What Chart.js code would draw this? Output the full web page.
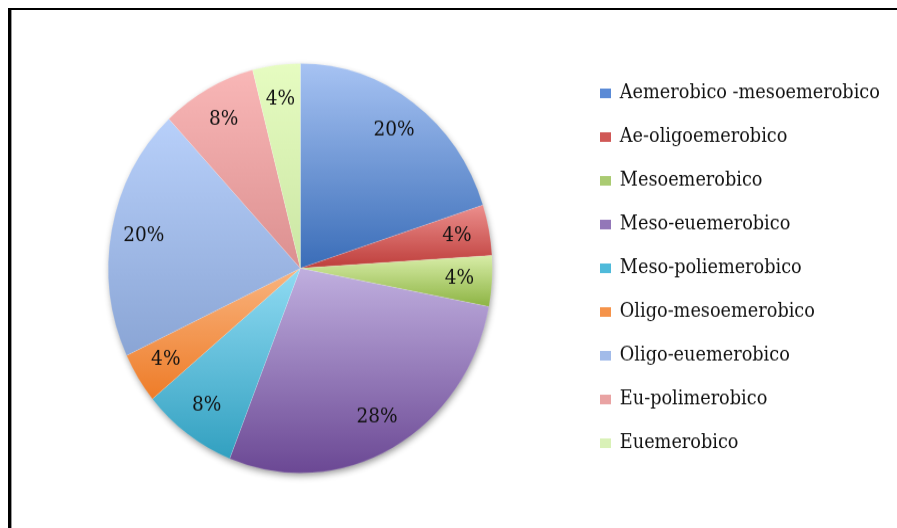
<!DOCTYPE html>
<html>
<head>
<meta charset="utf-8">
<script src="https://cdn.jsdelivr.net/npm/chart.js@4.4.1/dist/chart.umd.min.js"></script>
<style>
  html, body { margin: 0; padding: 0; background: #fff; overflow: hidden; }
  #wrap { position: absolute; left: 0; top: 0; width: 897px; height: 495px; transform: scaleY(1.0667); transform-origin: 0 0; }
  #frame { position: absolute; left: 8px; top: 8px; width: 1000px; height: 600px; border-left: 3px solid #000; border-top: 2px solid #000; box-shadow: inset 1px 0 0 #999; }
</style>
</head>
<body>
<div id="wrap"><canvas id="pie"></canvas></div>
<div id="frame"></div>
<script>
const labels = [
    'Aemerobico -mesoemerobico',
    'Ae-oligoemerobico',
    'Mesoemerobico',
    'Meso-euemerobico',
    'Meso-poliemerobico',
    'Oligo-mesoemerobico',
    'Oligo-euemerobico',
    'Eu-polimerobico',
    'Euemerobico'
];
const values = [20, 4, 4, 28, 8, 4, 20, 8, 4];

// light (top) and dark (bottom) end of each slice's gradient
const topColours = ['#a7c3f3', '#ec8f8d', '#d8eda8', '#c0afdf', '#90dbf3', '#f9b47f', '#b8d0fa', '#f9b7b7', '#e6fcc1'];
const bottomColours = ['#3a6db8', '#be3e3b', '#8db443', '#6b4894', '#32a0c0', '#ee7c28', '#8aa5d5', '#dc9090', '#cbe6a4'];
const legendColours = ['#5a8ad6', '#d05856', '#aacb72', '#9377b8', '#4fbada', '#f5934a', '#a2bbe9', '#e9a3a3', '#d9f1b7'];

const legendFont = { family: '"DejaVu Serif"', size: 17.7 };
const boxW = 11;
const legendPad = 23.3;

// measure the longest label so the legend boxes land at x = 600
const mctx = document.createElement('canvas').getContext('2d');
mctx.font = legendFont.size + 'px ' + legendFont.family;
const maxText = Math.max(...labels.map(l => mctx.measureText(l).width));
const maxItem = boxW + legendFont.size / 2 + maxText;
const rightPad = Math.max(0, 897 - 600 - maxItem - 10);

const total = values.reduce((a, b) => a + b, 0);

function sliceGradient(c) {
    const i = c.dataIndex;
    const chart = c.chart;
    const area = chart.chartArea;
    if (!area) return legendColours[i];
    const cy = (area.top + area.bottom) / 2;
    const r = 192;
    let before = 0;
    for (let k = 0; k < i; k++) before += values[k];
    const a0 = before / total * Math.PI * 2;
    const a1 = (before + values[i]) / total * Math.PI * 2;
    let yMin = cy, yMax = cy;
    for (let s = 0; s <= 40; s++) {
        const a = a0 + (a1 - a0) * s / 40;
        const y = cy - Math.cos(a) * r;
        yMin = Math.min(yMin, y);
        yMax = Math.max(yMax, y);
    }
    const g = chart.ctx.createLinearGradient(0, yMin, 0, yMax);
    g.addColorStop(0, topColours[i]);
    g.addColorStop(1, bottomColours[i]);
    return g;
}

const pieShadow = {
    id: 'pieShadow',
    beforeDatasetsDraw(chart) {
        const arc = chart.getDatasetMeta(0).data[0];
        if (!arc) return;
        const ctx = chart.ctx;
        ctx.save();
        ctx.shadowColor = 'rgba(0,0,0,0.45)';
        ctx.shadowBlur = 7;
        ctx.shadowOffsetX = 1;
        ctx.shadowOffsetY = 3;
        ctx.fillStyle = '#fff';
        ctx.beginPath();
        ctx.arc(arc.x, arc.y, arc.outerRadius - 1, 0, Math.PI * 2);
        ctx.fill();
        ctx.restore();
    }
};

const sliceLabels = {
    id: 'sliceLabels',
    afterDatasetsDraw(chart) {
        const ctx = chart.ctx;
        ctx.save();
        ctx.font = '18.5px "DejaVu Serif"';
        ctx.fillStyle = '#111';
        ctx.textAlign = 'center';
        ctx.textBaseline = 'middle';
        chart.getDatasetMeta(0).data.forEach((arc, i) => {
            const p = arc.getProps(['x', 'y', 'startAngle', 'endAngle', 'outerRadius'], true);
            const mid = (p.startAngle + p.endAngle) / 2;
            const r = p.outerRadius * 0.83;
            ctx.fillText(Math.round(values[i] / total * 100) + '%', p.x + Math.cos(mid) * r, p.y + Math.sin(mid) * r);
        });
        ctx.restore();
    }
};

new Chart(document.getElementById('pie'), {
    type: 'pie',
    data: {
        labels: labels,
        datasets: [{
            data: values,
            backgroundColor: sliceGradient,
            borderColor: 'rgba(255,255,255,0.25)',
            borderWidth: 0.5,
            radius: 192
        }]
    },
    options: {
        responsive: true,
        maintainAspectRatio: false,
        animation: false,
        layout: { padding: { left: 24, right: rightPad, top: 20, bottom: 12 } },
        plugins: {
            tooltip: { enabled: false },
            legend: {
                position: 'right',
                align: 'center',
                labels: {
                    font: legendFont,
                    color: '#111',
                    boxWidth: boxW,
                    boxHeight: 9,
                    padding: legendPad,
                    generateLabels: () => labels.map((text, i) => ({
                        text: text,
                        fillStyle: legendColours[i],
                        strokeStyle: legendColours[i],
                        lineWidth: 0,
                        hidden: false,
                        index: i,
                        fontColor: '#111'
                    }))
                }
            }
        }
    },
    plugins: [pieShadow, sliceLabels]
});
</script>
</body>
</html>
